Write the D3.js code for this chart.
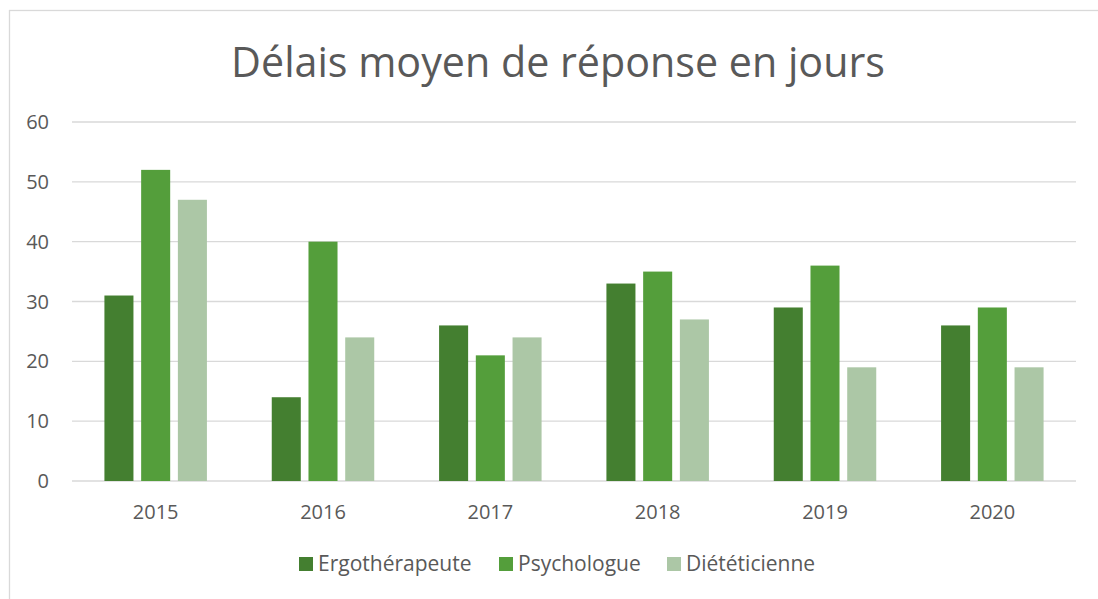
<!DOCTYPE html>
<html>
<head>
<meta charset="utf-8">
<script src="https://cdn.jsdelivr.net/npm/d3@7"></script>
<style>
  html, body { margin: 0; padding: 0; background: #fff; }
  svg { display: block; }
  text { font-family: "Open Sans", "Noto Sans", sans-serif; fill: #595959; }
</style>
</head>
<body>
<svg id="chart" width="1098" height="599"></svg>
<script>
const title = "Délais moyen de réponse en jours";
const years = ["2015", "2016", "2017", "2018", "2019", "2020"];
const seriesNames = ["Ergothérapeute", "Psychologue", "Diététicienne"];
const ergotherapeute = [31, 14, 26, 33, 29, 26];
const psychologue = [52, 40, 21, 35, 36, 29];
const dieteticienne = [47, 24, 24, 27, 19, 19];
const yTicks = [0, 10, 20, 30, 40, 50, 60];
const colors = ["#447f30", "#549e3b", "#acc7a6"];

const seriesValues = [ergotherapeute, psychologue, dieteticienne];
const svg = d3.select("#chart");

// outer border
svg.append("rect").attr("x", 9.5).attr("y", 10.5).attr("width", 1097).attr("height", 600)
  .attr("fill", "#fff").attr("stroke", "#d9d9d9").attr("stroke-width", 1.3);

const pLeft = 72, pRight = 1076, pTop = 122, pBottom = 481;
const x0 = d3.scaleBand().domain(years).range([pLeft, pRight]).padding(0);
const y = d3.scaleLinear().domain([0, 60]).range([pBottom, pTop]);
const band = x0.bandwidth();
const barW = band * 0.1735, gap = band * 0.046;
const groupW = 3 * barW + 2 * gap;

// gridlines
svg.append("g").selectAll("line").data(yTicks).join("line")
  .attr("x1", pLeft).attr("x2", pRight)
  .attr("y1", d => y(d)).attr("y2", d => y(d))
  .attr("stroke", "#d9d9d9").attr("stroke-width", d => d === 0 ? 1.6 : 1.3);

// y labels
svg.append("g").selectAll("text").data(yTicks).join("text")
  .attr("x", 49).attr("y", d => y(d) + 7)
  .attr("text-anchor", "end").attr("font-size", 20).text(d => d);

// bars
seriesValues.forEach((vals, si) => {
  svg.append("g").selectAll("rect").data(vals).join("rect")
    .attr("x", (d, i) => x0(years[i]) + (band - groupW) / 2 + si * (barW + gap))
    .attr("y", d => y(d))
    .attr("width", barW)
    .attr("height", d => y(0) - y(d))
    .attr("fill", colors[si]);
});

// x labels
svg.append("g").selectAll("text").data(years).join("text")
  .attr("x", d => x0(d) + band / 2).attr("y", 519)
  .attr("text-anchor", "middle").attr("font-size", 20).text(d => d);

// title
const t = svg.append("text").attr("x", 558).attr("y", 77)
  .attr("text-anchor", "middle").attr("font-size", 45).text(title);
const tw = t.node().getComputedTextLength();
t.attr("font-size", 45 * 654 / tw);

// legend
const legendX = [299, 499, 667];
const lg = svg.append("g").selectAll("g").data(seriesNames).join("g")
  .attr("transform", (d, i) => `translate(${legendX[i]},0)`);
lg.append("rect").attr("x", 0).attr("y", 557).attr("width", 14).attr("height", 14)
  .attr("fill", (d, i) => colors[i]);
lg.append("text").attr("x", 19).attr("y", 571).attr("font-size", 21).text(d => d);
</script>
</body>
</html>
